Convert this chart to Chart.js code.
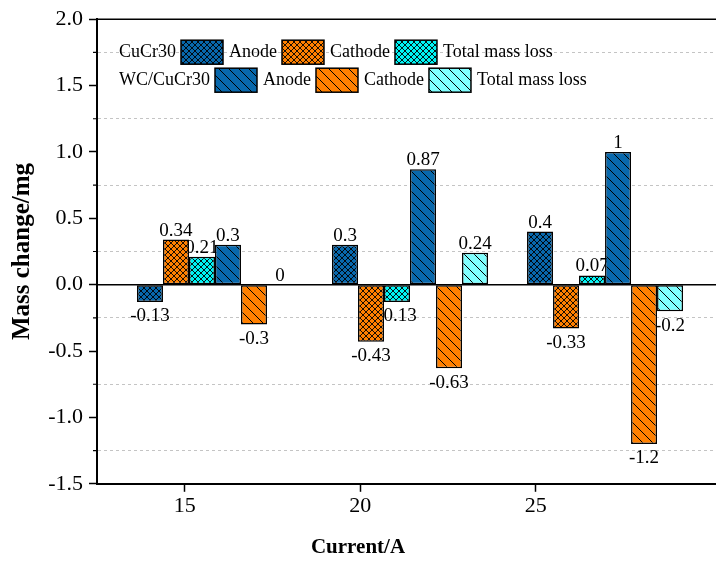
<!DOCTYPE html>
<html lang="en">
<head>
    <meta charset="UTF-8">
    <title>Mass change vs current</title>
    <script src="https://cdn.jsdelivr.net/npm/chart.js"></script>
    <style>
        body { margin: 0; background: #fff; }
        .chart-container { position: relative; width: 716px; height: 568px; }
    </style>
</head>
<body>
    <div class="chart-container"><canvas id="chart" width="716" height="568"></canvas></div>

    <script>
        // currents (A) and mass change values (mg)
        const currents = [15, 20, 25];
        const cucrAnode = [-0.13, 0.3, 0.4];
        const cucrCathode = [0.34, -0.43, -0.33];
        const cucrTotal = [0.21, -0.13, 0.07];
        const wcAnode = [0.3, 0.87, 1];
        const wcCathode = [-0.3, -0.63, -1.2];
        const wcTotal = [0, 0.24, -0.2];
        const yMajorTicks = [-1.5, -1.0, -0.5, 0.0, 0.5, 1.0, 1.5, 2.0];

        const serif = "'Liberation Serif', 'Times New Roman', serif";
        Chart.defaults.font.family = serif;
        Chart.defaults.color = '#000';

        const BLUE = '#0868AC', ORANGE = '#FF8000', CYAN = '#00F5F5', LCYAN = '#80FFFF';

        function crossHatch(color) {
            const c = document.createElement('canvas');
            c.width = c.height = 6;
            const g = c.getContext('2d');
            g.fillStyle = color;
            g.fillRect(0, 0, 6, 6);
            g.strokeStyle = '#000';
            g.lineWidth = 0.9;
            g.beginPath();
            g.moveTo(0, 0); g.lineTo(6, 6);
            g.moveTo(6, 0); g.lineTo(0, 6);
            g.stroke();
            return g.createPattern(c, 'repeat');
        }

        function diagHatch(color) {
            const c = document.createElement('canvas');
            c.width = c.height = 10;
            const g = c.getContext('2d');
            g.fillStyle = color;
            g.fillRect(0, 0, 10, 10);
            g.strokeStyle = '#000';
            g.lineWidth = 1;
            g.beginPath();
            g.moveTo(0, 0); g.lineTo(10, 10);
            g.moveTo(-1, 9); g.lineTo(1, 11);
            g.moveTo(9, -1); g.lineTo(11, 1);
            g.stroke();
            return g.createPattern(c, 'repeat');
        }

        const series = [
            { group: 'CuCr30', label: 'Anode', values: cucrAnode, fill: crossHatch(BLUE) },
            { group: 'CuCr30', label: 'Cathode', values: cucrCathode, fill: crossHatch(ORANGE) },
            { group: 'CuCr30', label: 'Total mass loss', values: cucrTotal, fill: crossHatch(CYAN) },
            { group: 'WC/CuCr30', label: 'Anode', values: wcAnode, fill: diagHatch(BLUE) },
            { group: 'WC/CuCr30', label: 'Cathode', values: wcCathode, fill: diagHatch(ORANGE) },
            { group: 'WC/CuCr30', label: 'Total mass loss', values: wcTotal, fill: diagHatch(LCYAN) }
        ];

        // value labels sit under the bars, like in the original plot
        const valueLabels = {
            id: 'valueLabels',
            beforeDatasetsDraw(chart) {
                const { ctx, chartArea, scales } = chart;
                const y0 = scales.y.getPixelForValue(0);
                ctx.save();
                ctx.strokeStyle = '#000';
                ctx.lineWidth = 1.5;
                ctx.beginPath();
                ctx.moveTo(chartArea.left, y0);
                ctx.lineTo(chartArea.right, y0);
                ctx.moveTo(chartArea.left, chartArea.top);
                ctx.lineTo(chartArea.right, chartArea.top);
                ctx.stroke();

                // short minor ticks on y axis
                ctx.lineWidth = 1.2;
                ctx.beginPath();
                for (let v = -1.25; v < 2; v += 0.5) {
                    const py = scales.y.getPixelForValue(v);
                    ctx.moveTo(chartArea.left - 4, py);
                    ctx.lineTo(chartArea.left, py);
                }
                ctx.stroke();

                ctx.font = '19px ' + serif;
                ctx.fillStyle = '#000';
                ctx.textAlign = 'center';
                chart.data.datasets.forEach((ds, i) => {
                    chart.getDatasetMeta(i).data.forEach((bar, j) => {
                        const v = ds.data[j].y;
                        if (v >= 0) {
                            ctx.textBaseline = 'alphabetic';
                            ctx.fillText(String(v), bar.x, bar.y - 4);
                        } else {
                            ctx.textBaseline = 'top';
                            ctx.fillText(String(v), bar.x, bar.y + 5);
                        }
                    });
                });
                ctx.restore();
            },
            afterDatasetsDraw(chart) {
                const { ctx, chartArea } = chart;
                ctx.save();
                ctx.font = '18px ' + serif;
                ctx.fillStyle = '#000';
                ctx.textBaseline = 'middle';
                ctx.textAlign = 'left';
                ['CuCr30', 'WC/CuCr30'].forEach((grp, r) => {
                    const cy = chartArea.top + 33 + r * 28;
                    let x = chartArea.left + 22;
                    ctx.fillText(grp, x, cy);
                    x += ctx.measureText(grp).width + 5;
                    series.filter(s => s.group === grp).forEach(s => {
                        ctx.fillStyle = s.fill;
                        ctx.fillRect(x, cy - 12, 42, 24);
                        ctx.strokeStyle = '#000';
                        ctx.lineWidth = 1.5;
                        ctx.strokeRect(x, cy - 12, 42, 24);
                        x += 48;
                        ctx.fillStyle = '#000';
                        ctx.fillText(s.label, x, cy);
                        x += ctx.measureText(s.label).width + 5;
                    });
                });
                ctx.restore();
            }
        };

        new Chart(document.getElementById('chart'), {
            type: 'bar',
            data: {
                datasets: series.map(s => ({
                    label: s.group + ' ' + s.label,
                    data: s.values.map((v, i) => ({ x: i, y: v })),
                    xAxisID: 'xb',
                    backgroundColor: s.fill,
                    borderColor: '#000',
                    borderWidth: 1.5,
                    borderSkipped: false,
                    categoryPercentage: 0.8,
                    barPercentage: 1.0
                }))
            },
            options: {
                responsive: false,
                animation: false,
                layout: { padding: { top: 18, right: 0, left: 0, bottom: 0 } },
                plugins: {
                    legend: { display: false },
                    tooltip: { enabled: false },
                    title: {
                        display: true,
                        position: 'bottom',
                        text: 'Current/A',
                        color: '#000',
                        font: { size: 21, weight: 'bold', family: serif },
                        padding: { top: 0, bottom: 8 }
                    }
                },
                scales: {
                    // hidden axis that places the bar groups (one unit per current)
                    xb: {
                        type: 'linear',
                        display: false,
                        min: -0.605,
                        max: 2.569,
                        offset: false,
                        grid: { offset: false },
                        afterBuildTicks: scale => { scale.ticks = currents.map((c, i) => ({ value: i })); }
                    },
                    // visible current axis
                    x: {
                        type: 'linear',
                        position: 'bottom',
                        min: 12.5,
                        max: 30.14,
                        offset: false,
                        afterBuildTicks: scale => { scale.ticks = currents.map(v => ({ value: v })); },
                        afterFit: scale => { scale.height = 51; },
                        ticks: { font: { size: 22 }, color: '#000', padding: 1, maxRotation: 0 },
                        grid: { offset: false, drawOnChartArea: false, tickLength: 8, tickColor: '#000', tickWidth: 1.5 },
                        border: { color: '#000', width: 2 }
                    },
                    y: {
                        min: -1.5,
                        max: 2.0,
                        afterFit: scale => { scale.width = 97; },
                        ticks: {
                            stepSize: 0.25,
                            autoSkip: false,
                            font: { size: 22 },
                            color: '#000',
                            padding: 6,
                            callback: v => yMajorTicks.some(t => Math.abs(t - v) < 1e-6) ? v.toFixed(1) : ''
                        },
                        grid: {
                            tickLength: 8,
                            tickWidth: 1.5,
                            color: c => yMajorTicks.some(t => Math.abs(t - c.tick.value) < 1e-6) ? 'rgba(0,0,0,0)' : '#c4c4c4',
                            tickColor: c => yMajorTicks.some(t => Math.abs(t - c.tick.value) < 1e-6) ? '#000' : 'rgba(0,0,0,0)'
                        },
                        border: { color: '#000', width: 2, dash: [3, 3] },
                        title: {
                            display: true,
                            text: 'Mass change/mg',
                            color: '#000',
                            font: { size: 25, weight: 'bold', family: serif },
                            padding: { top: 8, bottom: 0 }
                        }
                    }
                }
            },
            plugins: [valueLabels]
        });
    </script>
</body>
</html>
